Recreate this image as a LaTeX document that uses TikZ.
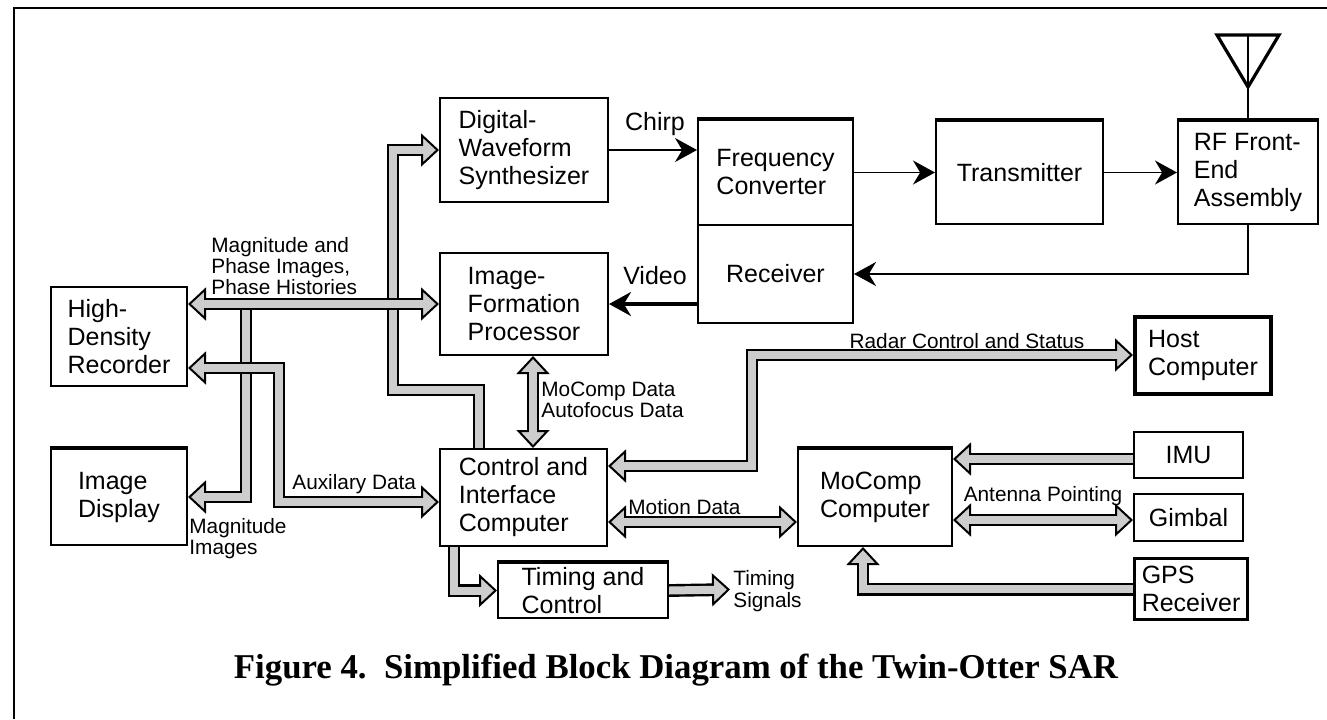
\documentclass[tikz,border=0pt]{standalone}
\usepackage{fontspec}
\setmainfont{Liberation Sans}
\newfontfamily\capfont{Liberation Serif}
\usetikzlibrary{arrows.meta,calc,backgrounds}
\definecolor{busgray}{RGB}{205,205,205}
\newcommand\boxfont{\fontsize{12.5}{14}\selectfont}
\newcommand\lblfont{\fontsize{10.4}{8.4}\selectfont}
\newcommand\busline[3]{\draw[busout,#1]#3;\draw[busin,#2]#3;}
\tikzset{
  btip/.tip={Triangle[length=9pt,width=16.5pt,line width=1pt,fill=busgray]},
  box/.style={draw,line width=1pt,anchor=north west,inner sep=0pt,align=left,font=\boxfont},
  lbl/.style={inner sep=0pt,align=left,font=\lblfont},
  sig/.style={inner sep=0pt,font=\boxfont},
  busout/.style={draw=black,line width=6.4pt,line join=miter,line cap=butt},
  busin/.style={draw=busgray,line width=4pt,line join=miter,line cap=butt},
  sigarrow/.style={line width=0.9pt,-{Stealth[length=11pt,width=12pt]}},
  heavytop/.style={line width=2pt},
}
\begin{document}
\begin{tikzpicture}[x=0.5pt,y=-0.5pt]
\useasboundingbox (0,0) rectangle (1327,719);
% frame
\draw[line width=1.2pt] (14,719) -- (14,8) -- (1327,8);

% boxes
\node[box,minimum width=84pt,minimum height=52pt] (dws) at (439,97) {Digital-\\Waveform\\Synthesizer};
\node[box,minimum width=84pt,minimum height=51pt] (ifp) at (439,252) {Image-\\Formation\\Processor};
\node[box,minimum width=77.5pt,minimum height=52.5pt] (fc) at (697,119) {Frequency\\Converter};
\node[box,minimum width=77.5pt,minimum height=49pt] (rx) at (697,224) {Receiver};
\node[box,minimum width=83.5pt,minimum height=51.5pt] (tx) at (935,120) {Transmitter};
\node[box,minimum width=70pt,minimum height=51.5pt] (rf) at (1177,120) {RF Front-\\End\\Assembly};
\node[box,minimum width=68pt,minimum height=49.5pt] (hdr) at (50,286) {High-\\Density\\Recorder};
\node[box,minimum width=68pt,minimum height=48pt] (imd) at (50,448) {Image\\Display};
\node[box,minimum width=83.5pt,minimum height=48.5pt] (cic) at (439,448) {Control and\\Interface\\Computer};
\node[box,minimum width=85pt,minimum height=27.5pt] (tc) at (497,562) {Timing and\\Control};
\node[box,minimum width=77pt,minimum height=48.5pt] (mc) at (797,448) {MoComp\\Computer};
\node[box,line width=2pt,minimum width=68pt,minimum height=38.5pt] (host) at (1133,315) {Host\\Computer};
\node[box,minimum width=54.5pt,minimum height=23pt] (imu) at (1133,431) {IMU};
\node[box,minimum width=54.5pt,minimum height=23.5pt] (gim) at (1133,493) {Gimbal};
\node[box,line width=1.6pt,minimum width=56.5pt,minimum height=30.5pt] (gps) at (1133,557) {GPS\\Receiver};

\foreach \b in {fc,tx,rf,mc,tc,imd}{\draw[heavytop] (\b.north west) -- (\b.north east);}

% antenna
\coordinate (ant) at ($(rf.north)+(0,-85)$);
\draw[line width=1.1pt] (rf.north) -- (ant);
\draw[line width=1.6pt,line join=miter] ($(ant)+(-31,0)$) -- ($(ant)+(31,0)$) -- ($(ant)+(0,52)$) -- cycle;

% signal arrows
\draw[sigarrow] (dws.east) -- (dws.east -| fc.west);
\draw[sigarrow] (fc.east) -- (tx.west);
\draw[sigarrow] (tx.east) -- (rf.west);
\draw[sigarrow] (rf.south) |- (rx.east);
\draw[sigarrow,line width=1.6pt] (rx.west |- ifp.east) -- (ifp.east);
\node[sig] (chirp) at (655,124) {Chirp};
\node[sig] (video) at (655,276) {Video};

% buses
\coordinate (j1) at (246,303);
\coordinate (m1) at ([xshift=4.5pt]ifp.south);
\coordinate (tsig) at (730,589.5);
\begin{pgfonlayer}{background}
\busline{-{btip}}{shorten >=7pt}{([xshift=-22.25pt]cic.north) |- (393,390) |- (dws.west)}
\busline{-{btip}}{shorten >=7pt}{(j1) |- (imd.east)}
\busline{{btip}-{btip}}{shorten <=7pt,shorten >=7pt}{(hdr.east |- ifp.west) -- (ifp.west)}
\busline{{btip}-{btip}}{shorten <=7pt,shorten >=7pt}{([yshift=-15.75pt]hdr.east) -| (279,502) -- (cic.west |- 0,502)}
\busline{{btip}-{btip}}{shorten <=7pt,shorten >=7pt}{(m1) -- (m1 |- cic.north)}
\busline{{btip}-{btip}}{shorten <=7pt,shorten >=7pt}{([yshift=15.75pt]cic.east) -| (752,355) -- (host.west |- 0,355)}
\busline{{btip}-{btip}}{shorten <=7pt,shorten >=7pt}{(cic.east |- 0,522) -- (mc.west |- 0,522)}
\busline{-{btip}}{shorten >=7pt}{(imu.west |- 0,459) -- (mc.east |- 0,459)}
\busline{{btip}-{btip}}{shorten <=7pt,shorten >=7pt}{(mc.east |- 0,520) -- (gim.west |- 0,520)}
\busline{-{btip}}{shorten >=7pt}{(gps.west) -| ([xshift=-6pt]mc.south)}
\busline{-{btip}}{shorten >=7pt}{([xshift=-34.75pt]cic.south) |- (tc.west)}
\busline{-{btip}}{shorten >=7pt}{(tc.east) -- (tsig)}
\end{pgfonlayer}

% bus labels
\node[lbl,anchor=west] (lmag) at (211,266) {Magnitude and\\Phase Images,\\Phase Histories};
\node[lbl,anchor=north west] (lmimg) at (189,518) {Magnitude\\Images};
\node[lbl,anchor=west] (laux) at (292,484) {Auxilary Data};
\node[lbl,anchor=west] (lmoc) at (541,400) {MoComp Data\\Autofocus Data};
\node[lbl] (lrad) at (967,341) {Radar Control and Status};
\node[lbl,anchor=west] (lmot) at (628,507) {Motion Data};
\node[lbl] (lant) at (1043,496) {Antenna Pointing};
\node[lbl,anchor=west] (ltim) at (733,591) {Timing\\Signals};

% caption
\node[font=\capfont\bfseries\fontsize{17.4}{20}\selectfont,inner sep=0pt] (cap) at (676,670) {Figure 4.\ \ Simplified Block Diagram of the Twin-Otter SAR};
\end{tikzpicture}
\end{document}
